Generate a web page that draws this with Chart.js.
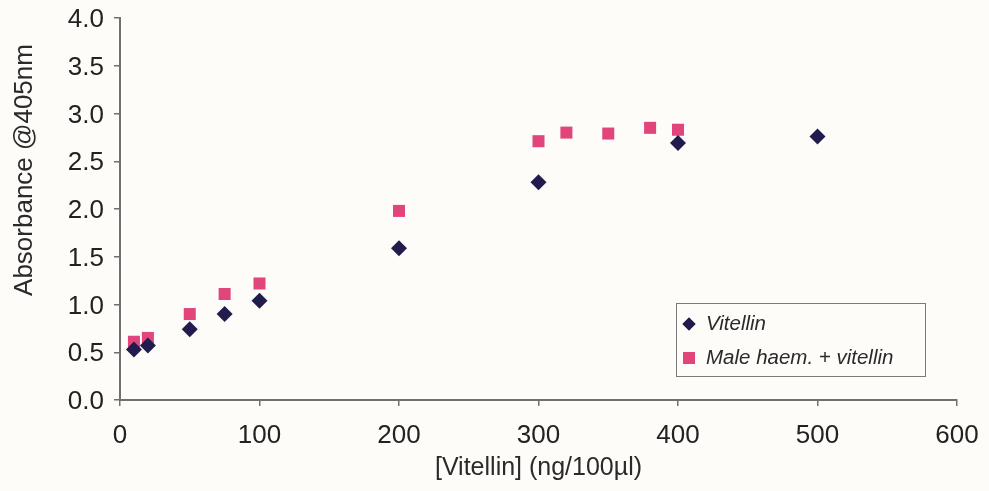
<!DOCTYPE html>
<html>
<head>
<meta charset="utf-8">
<script src="https://cdn.jsdelivr.net/npm/chart.js@4/dist/chart.umd.min.js"></script>
<style>
  html, body { margin: 0; padding: 0; background: #fdfcf8; }
  #wrap { width: 989px; height: 491px; position: relative; }
</style>
</head>
<body>
<div id="wrap"><canvas id="c" width="989" height="491"></canvas></div>
<script>
// Vitellin standard curve, with and without male haemolymph
const vitellinX = [10, 20, 50, 75, 100, 200, 300, 400, 500];
const vitellinY = [0.53, 0.57, 0.74, 0.90, 1.04, 1.59, 2.28, 2.69, 2.76];
const maleHaemX = [10, 20, 50, 75, 100, 200, 300, 320, 350, 380, 400];
const maleHaemY = [0.61, 0.65, 0.90, 1.11, 1.22, 1.98, 2.71, 2.80, 2.79, 2.85, 2.83];

const seriesNames = ['Vitellin', 'Male haem. + vitellin'];
const xTicks = [0, 100, 200, 300, 400, 500, 600];
const yTicks = [0, 0.5, 1, 1.5, 2, 2.5, 3, 3.5, 4];
const xTitle = '[Vitellin] (ng/100\u00b5l)';
const yTitle = 'Absorbance @405nm';

const FONT = "'Liberation Sans', Arial, sans-serif";
const NAVY = '#221c4e';
const PINK = '#e2457b';
const AXIS = '#707070';

const toPoints = (xs, ys) => xs.map((x, i) => ({ x, y: ys[i] }));

// y-axis title, rotated, set beside the axis
const yTitlePlugin = {
  id: 'yTitle',
  afterDraw(chart) {
    const { ctx } = chart;
    ctx.save();
    ctx.translate(25, 170);
    ctx.rotate(-Math.PI / 2);
    ctx.font = '26px ' + FONT;
    ctx.fillStyle = '#2a2a2a';
    ctx.textAlign = 'center';
    ctx.textBaseline = 'middle';
    ctx.fillText(yTitle, 0, 0);
    ctx.restore();
  }
};

// boxed legend inside the plot, lower right
const boxLegend = {
  id: 'boxLegend',
  afterDraw(chart) {
    const { ctx } = chart;
    const bx = 676, by = 303, bw = 249, bh = 73;
    ctx.save();
    ctx.strokeStyle = '#7a7a7a';
    ctx.lineWidth = 1;
    ctx.strokeRect(bx + 0.5, by + 0.5, bw, bh);
    ctx.font = 'italic 20.5px ' + FONT;
    ctx.textBaseline = 'middle';
    chart.data.datasets.forEach((ds, i) => {
      const cy = by + 20 + i * 34;
      ctx.beginPath();
      Chart.helpers.drawPoint(ctx, {
        pointStyle: ds.pointStyle,
        radius: ds.pointStyle === 'rectRot' ? 6.5 : 8.5,
        borderWidth: 0
      }, bx + 13, cy + 1);
      ctx.fillStyle = ds.backgroundColor;
      ctx.fill();
      ctx.fillStyle = '#2a2a2a';
      ctx.fillText(ds.label, bx + 30, cy + 1);
    });
    ctx.restore();
  }
};

new Chart(document.getElementById('c'), {
  type: 'scatter',
  data: {
    datasets: [
      {
        label: seriesNames[0],
        data: toPoints(vitellinX, vitellinY),
        pointStyle: 'rectRot',
        pointRadius: 8,
        backgroundColor: NAVY,
        borderColor: NAVY,
        borderWidth: 0
      },
      {
        label: seriesNames[1],
        data: toPoints(maleHaemX, maleHaemY),
        pointStyle: 'rect',
        pointRadius: 8.5,
        backgroundColor: PINK,
        borderColor: PINK,
        borderWidth: 0
      }
    ]
  },
  options: {
    responsive: false,
    animation: false,
    layout: { padding: { top: 18, right: 32, left: 0, bottom: 0 } },
    plugins: {
      legend: { display: false },
      tooltip: { enabled: false }
    },
    scales: {
      x: {
        type: 'linear',
        min: 0,
        max: 600,
        afterBuildTicks(scale) { scale.ticks = xTicks.map(v => ({ value: v })); },
        afterFit(scale) {
          scale.height = 91;
          scale.paddingLeft = 0;
          scale.paddingRight = 0;
        },
        border: { display: true, color: AXIS, width: 2 },
        grid: { drawOnChartArea: false, drawTicks: true, tickLength: 6, color: AXIS, lineWidth: 1.5 },
        ticks: {
          color: '#222',
          padding: 14,
          font: { family: FONT, size: 26 },
          callback: v => String(v)
        },
        title: {
          display: true,
          text: xTitle,
          color: '#2a2a2a',
          font: { family: FONT, size: 25 },
          padding: { top: 0, bottom: 8 }
        }
      },
      y: {
        type: 'linear',
        min: 0,
        max: 4,
        afterBuildTicks(scale) { scale.ticks = yTicks.map(v => ({ value: v })); },
        afterFit(scale) {
          scale.width = 120;
          scale.paddingTop = 0;
          scale.paddingBottom = 0;
        },
        border: { display: true, color: AXIS, width: 2 },
        grid: { drawOnChartArea: false, drawTicks: true, tickLength: 6, color: AXIS, lineWidth: 1.5 },
        ticks: {
          color: '#222',
          padding: 10,
          labelOffset: 2,
          font: { family: FONT, size: 26 },
          callback: v => Number(v).toFixed(1)
        }
      }
    }
  },
  plugins: [yTitlePlugin, boxLegend]
});
</script>
</body>
</html>
